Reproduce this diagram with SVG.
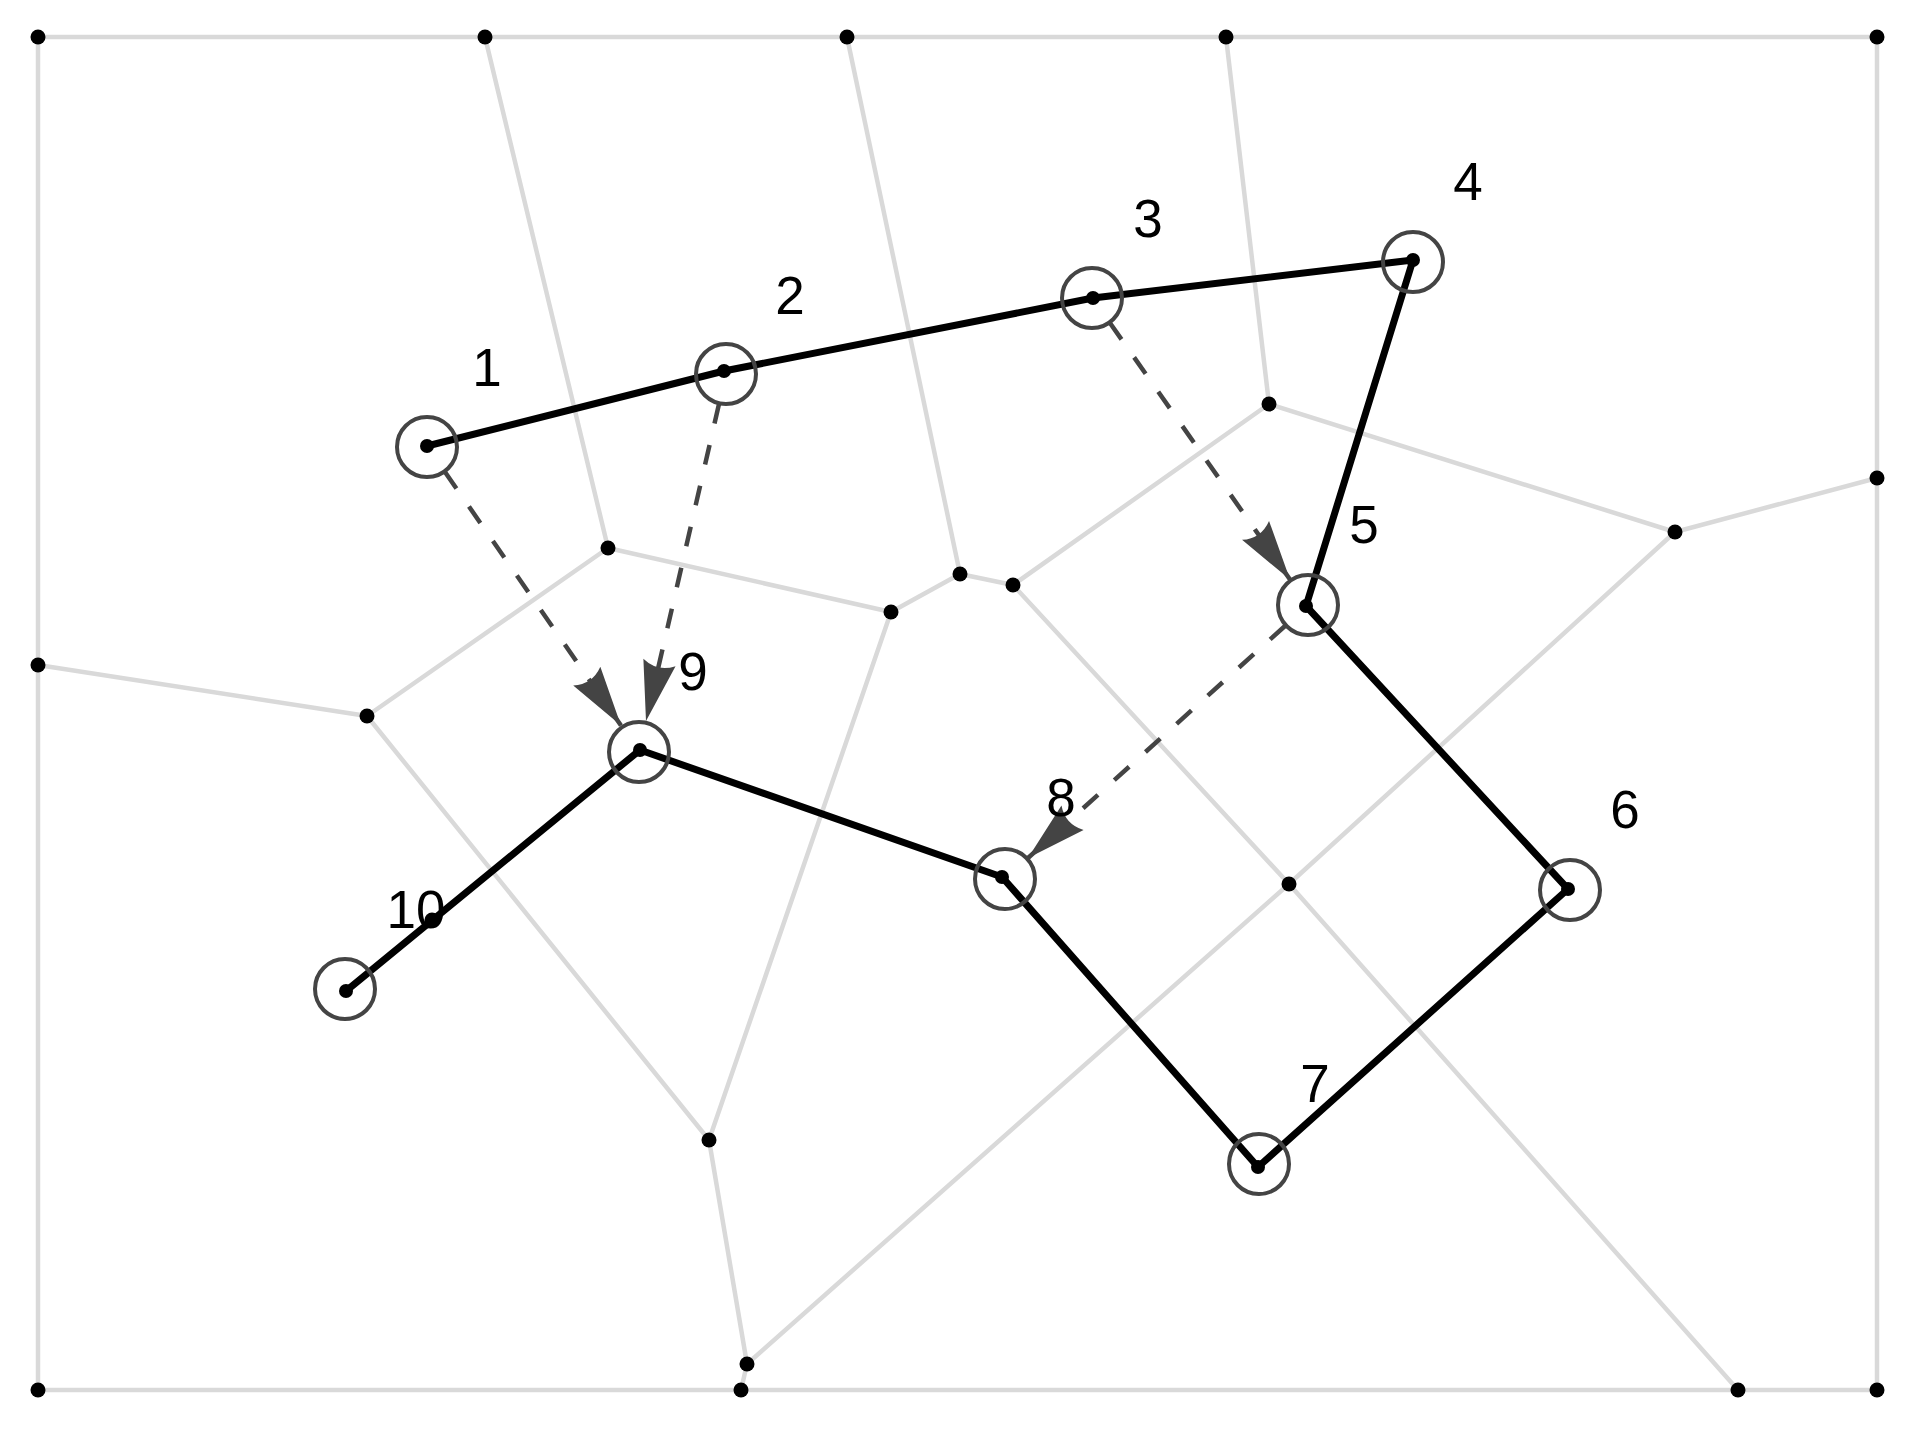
<svg xmlns="http://www.w3.org/2000/svg" width="1920" height="1433" viewBox="0 0 1920 1433">
<style>
.edge{stroke:#d9d9d9;stroke-width:4.5;fill:none;stroke-linecap:round}
.vdot{fill:#000}
.path{stroke:#000;stroke-width:7;fill:none;stroke-linecap:round;stroke-linejoin:round}
.ring{stroke:#444;stroke-width:4;fill:none}
.ndot{fill:#000}
.dash{stroke:#444;stroke-width:4.5;fill:none;stroke-dasharray:20 22}
.lbl{font-family:"Liberation Sans",Arial,sans-serif;font-size:53px;fill:#000;text-anchor:middle}
</style>
<defs>
<marker id="ah" markerUnits="userSpaceOnUse" markerWidth="70" markerHeight="40" viewBox="-62 -20 64 40" refX="0" refY="0" orient="auto" overflow="visible">
<path d="M0,0 L-60,-16.5 Q-50,0 -60,16.5 Z" fill="#444"/>
</marker>
</defs>
<rect width="1920" height="1433" fill="#fff"/>
<g id="voronoi">
<rect class="edge" x="38" y="37" width="1839" height="1353"/>
<line class="edge" x1="485" y1="37" x2="608" y2="548"/>
<line class="edge" x1="847" y1="37" x2="960" y2="574"/>
<line class="edge" x1="1226" y1="37" x2="1269" y2="404"/>
<line class="edge" x1="38" y1="665" x2="367" y2="716"/>
<line class="edge" x1="367" y1="716" x2="608" y2="548"/>
<line class="edge" x1="608" y1="548" x2="891" y2="612"/>
<line class="edge" x1="891" y1="612" x2="960" y2="574"/>
<line class="edge" x1="960" y1="574" x2="1013" y2="585"/>
<line class="edge" x1="1013" y1="585" x2="1269" y2="404"/>
<line class="edge" x1="1269" y1="404" x2="1675" y2="532"/>
<line class="edge" x1="1675" y1="532" x2="1877" y2="478"/>
<line class="edge" x1="1675" y1="532" x2="1289" y2="884"/>
<line class="edge" x1="1013" y1="585" x2="1289" y2="884"/>
<line class="edge" x1="1289" y1="884" x2="1738" y2="1390"/>
<line class="edge" x1="1289" y1="884" x2="747" y2="1364"/>
<line class="edge" x1="891" y1="612" x2="709" y2="1140"/>
<line class="edge" x1="367" y1="716" x2="709" y2="1140"/>
<line class="edge" x1="709" y1="1140" x2="747" y2="1364"/>
<line class="edge" x1="747" y1="1364" x2="741" y2="1390"/>
<g class="vdot">
<circle cx="38" cy="37" r="7.5"/><circle cx="485" cy="37" r="7.5"/><circle cx="847" cy="37" r="7.5"/><circle cx="1226" cy="37" r="7.5"/><circle cx="1877" cy="37" r="7.5"/>
<circle cx="38" cy="665" r="7.5"/><circle cx="1877" cy="478" r="7.5"/>
<circle cx="38" cy="1390" r="7.5"/><circle cx="741" cy="1390" r="7.5"/><circle cx="1738" cy="1390" r="7.5"/><circle cx="1877" cy="1390" r="7.5"/>
<circle cx="608" cy="548" r="7.5"/><circle cx="367" cy="716" r="7.5"/><circle cx="891" cy="612" r="7.5"/><circle cx="960" cy="574" r="7.5"/><circle cx="1013" cy="585" r="7.5"/>
<circle cx="1269" cy="404" r="7.5"/><circle cx="1675" cy="532" r="7.5"/><circle cx="1289" cy="884" r="7.5"/><circle cx="709" cy="1140" r="7.5"/><circle cx="747" cy="1364" r="7.5"/>
<circle cx="432" cy="920" r="7.5"/>
</g>
</g>
<g id="connectors">
<polyline class="path" points="427,446 724,371 1093,298 1413,260 1306,606 1568,889 1258,1167 1002,877 640,750 346,991"/>
<line class="dash" x1="445" y1="472" x2="621" y2="725.5" marker-end="url(#ah)"/>
<line class="dash" x1="719" y1="404" x2="646" y2="721" marker-end="url(#ah)"/>
<line class="dash" x1="1110" y1="323" x2="1290" y2="579.5" marker-end="url(#ah)"/>
<line class="dash" x1="1285" y1="626" x2="1028" y2="858" marker-end="url(#ah)"/>
</g>
<g id="node-1"><circle class="ring" cx="427" cy="447" r="30"/><circle class="ndot" cx="427" cy="446" r="7"/><text class="lbl" x="487" y="386">1</text></g>
<g id="node-2"><circle class="ring" cx="726" cy="374" r="30"/><circle class="ndot" cx="724" cy="371" r="7"/><text class="lbl" x="790" y="314">2</text></g>
<g id="node-3"><circle class="ring" cx="1092" cy="298" r="30"/><circle class="ndot" cx="1093" cy="298" r="7"/><text class="lbl" x="1148" y="237">3</text></g>
<g id="node-4"><circle class="ring" cx="1413" cy="262" r="30"/><circle class="ndot" cx="1413" cy="260" r="7"/><text class="lbl" x="1468" y="200">4</text></g>
<g id="node-5"><circle class="ring" cx="1308" cy="605" r="30"/><circle class="ndot" cx="1306" cy="606" r="7"/><text class="lbl" x="1364" y="543">5</text></g>
<g id="node-6"><circle class="ring" cx="1570" cy="890" r="30"/><circle class="ndot" cx="1568" cy="889" r="7"/><text class="lbl" x="1625" y="828">6</text></g>
<g id="node-7"><circle class="ring" cx="1259" cy="1164" r="30"/><circle class="ndot" cx="1258" cy="1167" r="7"/><text class="lbl" x="1315" y="1102">7</text></g>
<g id="node-8"><circle class="ring" cx="1005" cy="879" r="30"/><circle class="ndot" cx="1002" cy="877" r="7"/><text class="lbl" x="1061" y="816">8</text></g>
<g id="node-9"><circle class="ring" cx="639" cy="752" r="30"/><circle class="ndot" cx="640" cy="750" r="7"/><text class="lbl" x="693" y="690">9</text></g>
<g id="node-10"><circle class="ring" cx="345" cy="989" r="30"/><circle class="ndot" cx="346" cy="991" r="7"/><text class="lbl" x="416" y="928">10</text></g>
</svg>
